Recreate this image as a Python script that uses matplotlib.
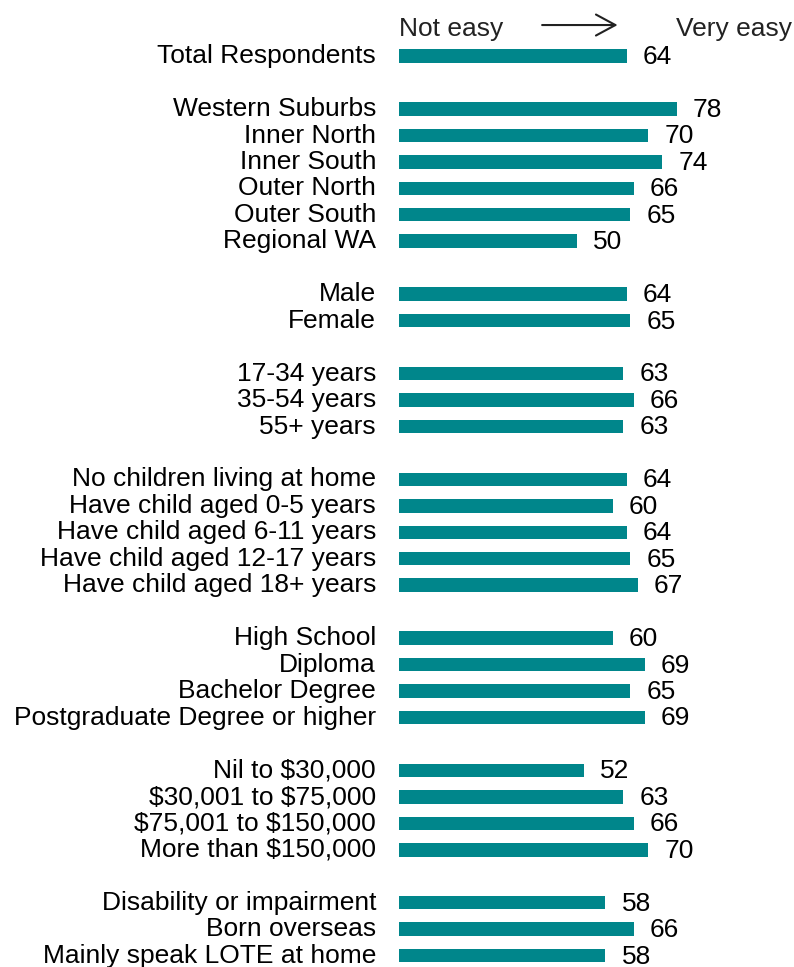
import matplotlib
matplotlib.use("Agg")
from matplotlib import pyplot as plt

plt.rcParams['font.family'] = ['Liberation Sans', 'DejaVu Sans']

# groups of categories and their scores (blank rows between groups)
groups = [
  ["Total Respondents"],
  ["Western Suburbs", "Inner North", "Inner South", "Outer North", "Outer South", "Regional WA"],
  ["Male", "Female"],
  ["17-34 years", "35-54 years", "55+ years"],
  ["No children living at home", "Have child aged 0-5 years", "Have child aged 6-11 years",
   "Have child aged 12-17 years", "Have child aged 18+ years"],
  ["High School", "Diploma", "Bachelor Degree", "Postgraduate Degree or higher"],
  ["Nil to \\$30,000", "\\$30,001 to \\$75,000", "\\$75,001 to \\$150,000", "More than \\$150,000"],
  ["Disability or impairment", "Born overseas", "Mainly speak LOTE at home"],
]
scores = [
  [64],
  [78, 70, 74, 66, 65, 50],
  [64, 65],
  [63, 66, 63],
  [64, 60, 64, 65, 67],
  [60, 69, 65, 69],
  [52, 63, 66, 70],
  [58, 66, 58],
]

bar_color = "#00868B"
fs = 19

fig = plt.figure(figsize=(7.94, 9.67), dpi=100)
px = 1 / 794.0
ax = fig.add_axes([399 * px, 0, (755 - 399) * px, 1])

labels = []
values = []
rows = []
r = 0
for g, s in zip(groups, scores):
  for name, v in zip(g, s):
    labels.append(name)
    values.append(v)
    rows.append(r)
    r += 1
  r += 1  # gap row

ax.barh(rows, values, height=0.51, color=bar_color, edgecolor="none")
for y, v, name in zip(rows, values, labels):
  ax.text(v + 4.5, y + 0.3, str(v), ha="left", va="baseline", fontsize=fs, color="black")
  ax.text(-6.46, y + 0.27, name, ha="right", va="baseline", fontsize=fs, color="black", clip_on=False)

# header
ax.text(0.1, -0.756, "Not easy", ha="left", va="baseline", fontsize=fs, color="#222222", clip_on=False)
ax.text(77.8, -0.756, "Very easy", ha="left", va="baseline", fontsize=fs, color="#222222", clip_on=False)
ax.annotate("", xy=(61.4, -1.17), xytext=(40.2, -1.17),
            arrowprops=dict(arrowstyle="->, head_length=0.5, head_width=0.27",
                            color="#222222", lw=1.5, mutation_scale=28, shrinkA=0, shrinkB=0),
            annotation_clip=False)

ax.set_xlim(0, 100)
ax.set_ylim(34.43, -2.116)
ax.axis("off")

fig.savefig("out.png", dpi=100)
plt.close()
